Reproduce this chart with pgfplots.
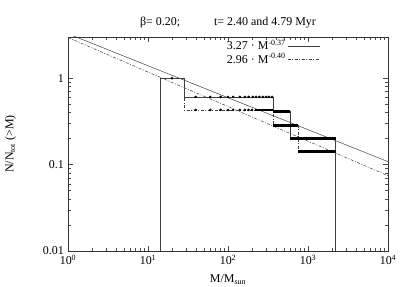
\documentclass[border=0pt]{standalone}
\usepackage{fontspec}
\setmainfont{Liberation Serif}
\usepackage{pgfplots}
\pgfplotsset{compat=1.18}
\usetikzlibrary{calc}
\begin{document}
\fontsize{12}{14}\selectfont
\begin{tikzpicture}
\begin{loglogaxis}[name=ax, scale only axis, width=320bp, height=214bp,
  xmin=1, xmax=10000, ymin=0.01, ymax=3,
  xtick={1,10,100,1000,10000},
  xticklabels={10\textsuperscript{0},10\textsuperscript{1},10\textsuperscript{2},10\textsuperscript{3},10\textsuperscript{4}},
  ytick={0.01,0.1,1}, yticklabels={0.01,0.1,1},
  tick align=inside, major tick length=5bp, minor tick length=3bp,
  every tick/.style={black!70, line width=0.4bp},
  axis line style={black!80, line width=0.6bp},
  tick label style={font=\fontsize{12}{14}\selectfont},
  xlabel={M/M\textsubscript{sun}}, ylabel={N/N\textsubscript{tot} (>M)},
  x label style={at={(axis description cs:0.5,-0.135)}, anchor=center, font=\fontsize{12}{14}\selectfont},
  y label style={at={(axis description cs:-0.18,0.5)}, anchor=center, rotate=0, font=\fontsize{12}{14}\selectfont},
  title={β= 0.20;\hspace{34bp}t= 2.40 and 4.79 Myr},
  title style={at={(axis description cs:0.5,1.04)}, anchor=center, font=\fontsize{12}{14}\selectfont},
  legend style={draw=none, fill=none, at={(rel axis cs:0.49,0.995)}, anchor=north west,
    font=\fontsize{12}{14}\selectfont, inner sep=0pt, row sep=-2bp},
  legend cell align=left, legend plot pos=right,
  legend image code/.code={\draw[#1] (0bp,0bp) -- (32bp,0bp);},
]
\addplot[black!75, line width=0.5bp] coordinates {(1,3.27) (10000,0.1083)};
\addlegendentry{3.27 · M\textsuperscript{-0.37}}
\addplot[black!75, line width=0.5bp, dash pattern=on 3bp off 1.5bp on 1bp off 1.5bp] coordinates {(1,2.96) (10000,0.0744)};
\addlegendentry{2.96 · M\textsuperscript{-0.40}}

% solid step
\addplot[forget plot, black!75, line width=0.5bp] coordinates {
(14.3,0.01) (14.3,1) (28.5,1) (28.5,0.608) (369,0.608) (369,0.41) (600,0.41) (600,0.20) (2220,0.20) (2220,0.01)};
% dash-dot step
\addplot[forget plot, black!75, line width=0.5bp, dash pattern=on 3bp off 1.5bp on 1bp off 1.5bp] coordinates {
(14.3,0.01) (14.3,1) (28.5,1) (28.5,0.43) (369,0.43) (369,0.286) (750,0.286) (750,0.143) (2220,0.143) (2220,0.01)};

% thick segments (dense points)
\addplot[forget plot, black, line width=3bp] coordinates {(369,0.41) (600,0.41)};
\addplot[forget plot, black, line width=3bp] coordinates {(600,0.20) (2220,0.20)};
\addplot[forget plot, black, line width=3bp] coordinates {(369,0.286) (750,0.286)};
\addplot[forget plot, black, line width=3bp] coordinates {(740,0.143) (2220,0.143)};
\addplot[forget plot, black, line width=2bp] coordinates {(218,0.43) (369,0.43)};

% dots
\addplot[forget plot, only marks, mark=*, mark size=1.1bp, black] coordinates {
(20,1.0)
(39.5,0.608) (60,0.608) (81,0.608) (100,0.608) (116,0.608) (141,0.608) (163,0.608) (181,0.608)
(204,0.608) (224,0.608) (246,0.608) (272,0.608) (299,0.608) (325,0.608) (355,0.608)};
\addplot[forget plot, only marks, mark=*, mark size=1.1bp, black] coordinates {
(39.5,0.43) (60,0.43) (81,0.43) (100,0.43) (116,0.43) (141,0.43) (163,0.43) (181,0.43) (200,0.43)};
\end{loglogaxis}
\pgfresetboundingbox
\path[use as bounding box] ($(ax.south west)+(-68bp,-36bp)$) rectangle ($(ax.north east)+(21bp,37bp)$);
\end{tikzpicture}
\end{document}
